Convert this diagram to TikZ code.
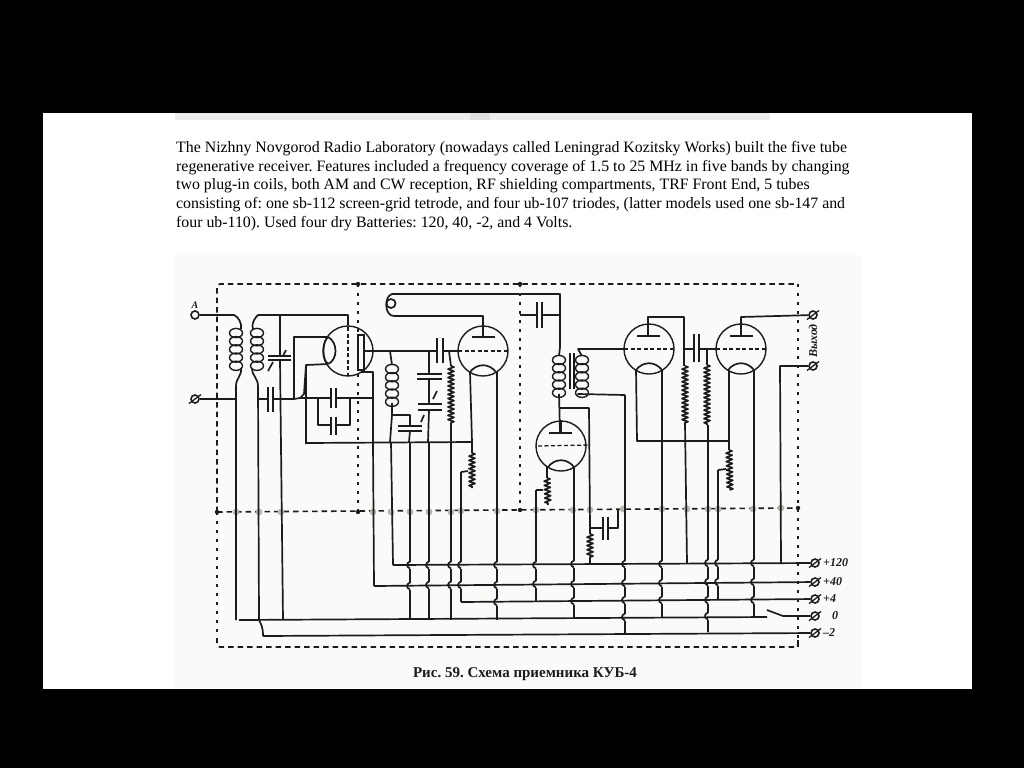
\documentclass[tikz,border=0pt]{standalone}
\usepackage{fontspec}
\setmainfont{Liberation Serif}
\usetikzlibrary{calc,decorations.pathmorphing}
\tikzset{
  wire/.style={line width=1.7pt,color=inkblack,line join=round},
  plate/.style={line width=2.4pt,color=inkblack},
  shield/.style={line width=1.6pt,color=inkblack,dash pattern=on 5.5pt off 4pt},
  shielddot/.style={line width=1.8pt,color=inkblack,dash pattern=on 3pt off 6pt},
  griddash/.style={line width=1.3pt,color=inkblack,dash pattern=on 4pt off 2.5pt},
  tube/.style={circle,draw=inkblack,line width=1.4pt,minimum size=50pt,inner sep=0pt},
  terminal/.style={circle,draw=inkblack,line width=1.6pt,minimum size=8pt,inner sep=0pt},
  resistor/.style={wire,decorate,decoration={zigzag,segment length=4.2pt,amplitude=3pt}},
  termlabel/.style={font=\fontsize{12}{12}\selectfont\bfseries\itshape,color=inkblack,anchor=west,inner sep=0pt}
}
\definecolor{inkblack}{HTML}{1C1C1C}
\definecolor{scanpaper}{HTML}{FAFAF9}
\definecolor{scanblob}{HTML}{B8B8B4}
% coil of five loops, top at #2
\newcommand{\coilv}[2]{
  \foreach \k in {0,...,4}
    \draw [inkblack,line width=1.4pt] (#1,#2+4+\k*8.2) ellipse (6.5 and 4.6);
}
% vertical wire, bumps over the listed rails
\newcommand{\jumpwire}[4]{
  \draw [wire] (#1,#2) -- (#1,#3);
  \foreach \b in {#4} {
    \draw [scanpaper,line width=2.8pt] (#1,\b-3.5) -- (#1,\b+3.5);
    \draw [wire] (#1,\b-3.5) .. controls (#1-4,\b-2) and (#1-4,\b+2) .. (#1,\b+3.5);
  }
}
% capacitors
\newcommand{\capv}[4]{
  \draw [plate] (#1,#3) -- (#1,#4);
  \draw [plate] (#2,#3) -- (#2,#4);
}
\newcommand{\caph}[4]{
  \draw [plate] (#3,#1) -- (#4,#1);
  \draw [plate] (#3,#2) -- (#4,#2);
}
% lens of a valve, #1 = valve name
\newcommand{\heater}[1]{
  \draw [wire] ($(#1)+(-13,21)$) .. controls ($(#1)+(-6,12)$) and ($(#1)+(6,12)$) .. ($(#1)+(13,21)$);
}
\begin{document}
\frenchspacing
\begin{tikzpicture}[x=1pt,y=-1pt]
\useasboundingbox (0,0) rectangle (1024,768);
\fill [black] (0,0) rectangle (1024,768);
\fill [white] (43,113) rectangle (972,689);
\fill [scanpaper] (175,255) rectangle (861,689);
\fill [black!7] (175,113) rectangle (770,120);
\fill [black!13] (470,113) rectangle (490,120);

\node (intro) [anchor=north west,align=left,inner sep=0pt,font=\fontsize{15.85}{18.7}\selectfont] at (176,141)
  {The Nizhny Novgorod Radio Laboratory (nowadays called Leningrad Kozitsky Works) built the five tube\\
   regenerative receiver. Features included a frequency coverage of 1.5 to 25 MHz in five bands by changing\\
   two plug-in coils, both AM and CW reception, RF shielding compartments, TRF Front End, 5 tubes\\
   consisting of: one sb-112 screen-grid tetrode, and four ub-107 triodes, (latter models used one sb-147 and\\
   four ub-110). Used four dry Batteries: 120, 40, -2, and 4 Volts.};

% screening box
\draw [shield,rounded corners=3pt] (217,512) -- (217,284) -- (798,284);
\draw [shielddot] (798,284) -- (798,647);
\draw [shield,rounded corners=3pt] (798,640) -- (798,647) -- (217,647) -- (217,640);
\draw [shielddot] (217,512) -- (217,647);
\draw [shield] (217,512) -- (798,508);
\draw [shielddot] (358,284) -- (358,512);
\draw [shielddot] (520,284) -- (520,510);
\foreach \p in {(358,284),(520,284),(358,512),(520,510),(798,508),(217,512)}
  \fill [inkblack] \p circle (2.2);
\foreach \x/\y in {236/512,259/512,281/512,373/512,391/512,410/512,429/512,451/512,461/511,497/511,536/510,573/510,590/510,623/509,662/509,687/509,708/509,718/509,753/509,781/508}
  \fill [scanblob] (\x,\y) circle (3.4);

% valves
\node (tetrode) [tube] at (348,351) {};
\node (triodeA) [tube] at (483,351) {};
\node (triodeB) [tube] at (561,446) {};
\node (triodeC) [tube] at (649,349) {};
\node (triodeD) [tube] at (741,349) {};

% terminals
\node (ant) [terminal] at (195,315) {};
\node (gnd) [terminal] at (195,399) {};
\node (outA) [terminal] at (813,315) {};
\node (outB) [terminal] at (813,366) {};
\node (rail120) [terminal] at (815,563) {};
\node (rail40) [terminal] at (815,582) {};
\node (rail4) [terminal] at (815,599) {};
\node (rail0) [terminal] at (815,616) {};
\node (railneg) [terminal] at (815,633) {};
\foreach \t in {gnd,outA,outB,rail120,rail40,rail4,rail0,railneg}
  \draw [inkblack,line width=1.3pt] ($(\t)+(-6,4.5)$) -- ($(\t)+(6,-4.5)$);
\node (antlabel) [font=\fontsize{10}{10}\selectfont\bfseries\itshape,color=inkblack,inner sep=0pt] at (195,305) {A};
\node (lab120) [termlabel] at (823,563) {+120};
\node (lab40) [termlabel] at (823,582) {+40};
\node (lab4) [termlabel] at (823,599) {+4};
\node (lab0) [termlabel] at (832,616) {0};
\node (labneg) [termlabel] at (823,633) {--2};
\node (outlabel) [font=\fontsize{12}{12}\selectfont\bfseries\itshape,color=inkblack,rotate=90,inner sep=0pt] at (813,341) {Выход};
\node (caption) [font=\fontsize{15}{15}\selectfont\bfseries,color=inkblack,inner sep=0pt] at (525,674) {Рис. 59. Схема приемника КУБ-4};

% aerial coils
\coilv{236}{329}
\coilv{257}{329}
\draw [wire] (ant) -- (234,315) .. controls (238,317) and (242,322) .. (241,329);
\draw [wire] (241,368) .. controls (242,376) and (236,378) .. (236,386) -- (236,620);
\draw [wire] (gnd) -- (236,399);
\draw [wire] (253,329) .. controls (251,322) and (256,317) .. (258,315) -- (348,315) -- (tetrode.north);
\draw [wire] (252,368) .. controls (252,376) and (258,378) .. (258,386) -- (259,620) .. controls (261,624) and (263,627) .. (263,636);

% tuning capacitor
\draw [wire] (280,315) -- (280,356);
\draw [wire] (280,360) -- (283,620);
\caph{356}{360}{268}{291}
\draw [wire] (286,350) -- (283,356);
\draw [wire] (273,362) -- (268,371);

% grid leak group
\draw [wire] (259,399) -- (268,399);
\draw [wire] (273,399) -- (294,399) -- (300,398) -- (331,398);
\capv{268}{273}{387}{412}
\capv{331}{336}{388}{408}
\draw [wire] (336,398) -- (373,398);
\draw [wire] (318,398) -- (318,425) -- (331,425);
\capv{331}{336}{417}{435}
\draw [wire] (336,425) -- (350,425) -- (350,398);

% tetrode
\draw [griddash] (348,327) -- (348,376);
\draw [wire] (328,337) .. controls (338,342) and (338,360) .. (328,364);
\draw [wire] (328,337) .. controls (322,342) and (322,360) .. (328,364);
\draw [wire] (328,337) -- (294,337) -- (294,399);
\draw [wire] (328,364) -- (306,365) -- (306,444);
\draw [wire] (306,365) -- (304,394) -- (300,398);
\draw [line width=1.6pt,inkblack] (358,335) rectangle (364,370);
\draw [wire] (363,351) -- (437,351);
\draw [wire] (443,351) -- (458,351);
\capv{437}{443}{338}{363}
\draw [wire] (361,372) -- (373,372) -- (373,443);

% anode coil, series capacitors and leak
\coilv{392}{365}
\draw [wire] (390,351) -- (392,365);
\draw [wire] (392,403) -- (392,415) -- (390,442);
\draw [wire] (392,415) -- (410,415) -- (410,426);
\caph{426}{431}{398}{422}
\draw [wire] (410,431) -- (409,442);
\draw [wire] (429,351) -- (429,374);
\caph{374}{379}{417}{442}
\draw [wire] (429,379) -- (429,404);
\caph{404}{410}{418}{442}
\draw [wire] (429,410) -- (428,442);
\draw [wire] (437,391) -- (433,399);
\draw [wire] (424,415) -- (421,422);
\draw [wire] (449,351) -- (451,366);
\draw [resistor] (451,366) -- (451,424);
\draw [wire] (451,424) -- (451,442);
\draw [wire] (306,443) -- (472,442);

% first triode
\draw [griddash] (458,351) -- (508,351);
\draw [plate] (472,337) -- (495,337);
\draw [wire] (483,337) -- (triodeA.north);
\draw [wire] (483,326) -- (483,316) -- (394,316) .. controls (384,316) and (384,296) .. (392,294) -- (560,294) -- (560,347);
\draw [wire] (391,299) .. controls (397,299) and (397,308) .. (391,308) .. controls (385,308) and (385,299) .. (391,299);
\heater{triodeA}
\draw [wire] (470,372) -- (472,442) -- (472,453);
\draw [resistor] (472,453) -- (472,488);
\draw [wire] (461,472) -- (468,471);

% shunt capacitor and transformer
\draw [wire] (520,315) -- (537,315);
\draw [wire] (542,315) -- (560,315);
\capv{537}{542}{302}{328}
\coilv{559}{356}
\coilv{582}{356}
\draw [line width=1.4pt,inkblack] (570,353) -- (570,389);
\draw [line width=1.4pt,inkblack] (574,353) -- (574,389);
\draw [wire] (560,347) -- (559,356);
\draw [wire] (582,356) -- (578,349) -- (624,349);
\draw [wire] (582,394) -- (578,394) -- (625,395);
\draw [wire] (559,394) -- (560,433);

% second stage
\draw [wire] (560,408) -- (589,408) -- (590,528);
\draw [griddash] (538,446) -- (590,445);
\draw [plate] (549,433) -- (572,433);
\draw [wire] (561,433) -- (triodeB.north);
\heater{triodeB}
\draw [wire] (547,467) -- (547,478);
\draw [resistor] (547,478) -- (548,505);
\draw [wire] (536,490) -- (543,490);
\draw [wire] (590,528) -- (603,528);
\draw [wire] (608,528) -- (618,528) -- (618,510);
\capv{603}{608}{517}{540}
\draw [wire] (590,528) -- (590,534);
\draw [resistor] (590,534) -- (590,558);
\draw [wire] (590,558) -- (590,563);

% third valve
\draw [griddash] (624,349) -- (674,349);
\draw [plate] (637,336) -- (660,336);
\draw [wire] (648,336) -- (648,317) -- (684,317) -- (684,366);
\heater{triodeC}
\draw [wire] (636,369) -- (637,441) -- (729,441);
\draw [resistor] (685,366) -- (685,424);
\draw [wire] (685,424) -- (687,563);
\draw [wire] (684,349) -- (694,349);
\draw [wire] (699,349) -- (717,349);
\capv{694}{699}{334}{362}

% output valve
\draw [griddash] (716,349) -- (766,349);
\draw [plate] (730,336) -- (753,336);
\draw [wire] (741,336) -- (741,317) -- (outA);
\heater{triodeD}
\draw [wire] (707,349) -- (707,365);
\draw [resistor] (707,365) -- (707,425);
\draw [wire] (729,370) -- (729,450);
\draw [resistor] (729,450) -- (730,490);
\draw [wire] (718,470) -- (726,469);
\draw [wire] (781,563) -- (780,366) -- (outB);

% lower wires with their jumps
\draw [wire] (373,443) -- (374,586);
\draw [wire] (391,442) -- (393,565);
\jumpwire{410}{442}{620}{565,586}
\jumpwire{429}{442}{620}{565,585}
\jumpwire{451}{442}{620}{565,585}
\jumpwire{461}{472}{602}{565,585}
\jumpwire{497}{372}{620}{565,585,602}
\jumpwire{536}{490}{602}{565,584}
\jumpwire{574}{467}{618}{564,584,601}
\jumpwire{625}{395}{633}{564,583,600,617}
\jumpwire{662}{370}{617}{564,583,600}
\jumpwire{708}{425}{632}{563,582,600,616}
\jumpwire{718}{470}{600}{563,582}
\jumpwire{754}{370}{617}{563,582,600}

% rails
\draw [wire] (393,565) -- (rail120);
\draw [wire] (374,586) -- (rail40);
\draw [wire] (461,602) -- (rail4);
\draw [wire] (239,620) -- (767,617);
\draw [wire] (767,610) -- (783,616);
\draw [wire] (783,616) -- (rail0);
\draw [wire] (263,636) -- (railneg);
\end{tikzpicture}
\end{document}
